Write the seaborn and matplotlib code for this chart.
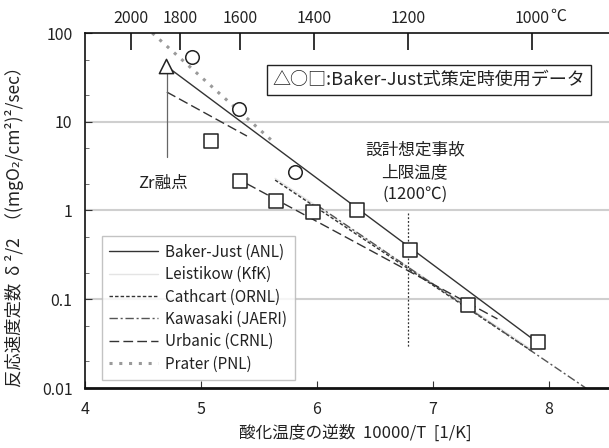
import numpy as np
import pandas as pd
import matplotlib
matplotlib.use("Agg")
import matplotlib.pyplot as plt
import seaborn as sns

# Correlation lines: inverse temperature 10000/T and rate constant at segment ends
bj_x, bj_y = [4.706, 7.91], [42.0, 0.032]            # Baker-Just (ANL)
le_x, le_y = [5.64, 7.855], [2.3, 0.027]             # Leistikow (KfK)
ca_x, ca_y = [5.64, 7.855], [2.2, 0.026]             # Cathcart (ORNL)
ka_x, ka_y = [6.0, 8.53], [1.15, 0.0065]             # Kawasaki (JAERI)
ur_hi_x, ur_hi_y = [4.706, 5.397], [21.6, 6.9]       # Urbanic (CRNL), cubic range
ur_lo_x, ur_lo_y = [5.397, 7.558], [2.0, 0.060]      # Urbanic (CRNL), tetragonal range
pr_x, pr_y = [4.58, 5.62], [100.0, 6.0]              # Prater (PNL)

# Measured points used for the Baker-Just fit
tri_x, tri_y = [4.70], [42.5]
cir_x, cir_y = [4.92, 5.33, 5.81], [53.7, 13.9, 2.7]
sq_x = [5.09, 5.34, 5.65, 5.97, 6.35, 6.80, 7.30, 7.91]
sq_y = [6.1, 2.15, 1.28, 0.96, 1.0, 0.36, 0.086, 0.033]

# Axis ticks
x_ticks = [4, 5, 6, 7, 8]
y_ticks = [0.01, 0.1, 1, 10, 100]
y_tick_labels = ["0.01", "0.1", "1", "10", "100"]
temp_c = [2000, 1800, 1600, 1400, 1200, 1000]
temp_labels = ["2000", "1800", "1600", "1400", "1200", "1000"]

zr_melt_x = 4.706          # Zr melting point (1852 ℃)
limit_x = 10000 / (1200 + 273.15)

sns.set_theme(style="white")
plt.rcParams["font.family"] = ["Noto Sans CJK JP", "DejaVu Sans"]
plt.rcParams["axes.unicode_minus"] = False

fig = plt.figure(figsize=(6.09, 4.48), dpi=100)
ax = fig.add_axes([85 / 609, 1 - 388 / 448, 1 - 85 / 609, (388 - 33) / 448])
ax.set_yscale("log")
ax.set_xlim(4, 8.52)
ax.set_ylim(0.01, 100)

ink = "#333333"
txt = "#222222"


def seg(x, y, **kw):
    df = pd.DataFrame({"x": x, "y": y})
    sns.lineplot(data=df, x="x", y="y", ax=ax, sort=False, estimator=None, **kw)
    return ax.lines[-1]


h_le = seg(le_x, le_y, color="#e4e4e4", linewidth=1.0)
h_bj = seg(bj_x, bj_y, color=ink, linewidth=1.0)
h_ca = seg(ca_x, ca_y, color=ink, linewidth=1.0, dashes=(2.5, 1.5))
h_ka = seg(ka_x, ka_y, color="#555555", linewidth=1.0, dashes=(6, 2, 1.5, 2))
h_ur = seg(ur_hi_x, ur_hi_y, color=ink, linewidth=1.0, dashes=(7, 3))
seg(ur_lo_x, ur_lo_y, color=ink, linewidth=1.0, dashes=(7, 3))
h_pr = seg(pr_x, pr_y, color="#9a9a9a", linewidth=2.2, dashes=(1, 2.2))

# Reference temperatures
ax.plot([zr_melt_x, zr_melt_x], [36, 4.0], color="#666666", linewidth=0.9)
ax.plot([limit_x, limit_x], [0.94, 0.029], color=ink, linewidth=0.9, linestyle=(0, (1.5, 1.5)))

mk = dict(facecolor="white", edgecolor="#222222", linewidth=1.1, zorder=5, ax=ax, legend=False)
sns.scatterplot(x=tri_x, y=tri_y, marker="^", s=105, **mk)
sns.scatterplot(x=cir_x, y=cir_y, marker="o", s=95, **mk)
sns.scatterplot(x=sq_x, y=sq_y, marker="s", s=90, **mk)

# Grid and ticks
for v in [0.1, 1, 10]:
    ax.axhline(v, color="#cfcfcf", linewidth=1.5, zorder=0)
ax.set_xticks(x_ticks)
ax.set_xticklabels([str(t) for t in x_ticks])
ax.set_yticks(y_ticks)
ax.set_yticklabels(y_tick_labels)
ax.yaxis.set_minor_locator(matplotlib.ticker.FixedLocator(
    [2e-2, 5e-2, 2e-1, 5e-1, 2, 5, 20, 50]))
ax.yaxis.set_minor_formatter(matplotlib.ticker.NullFormatter())
ax.tick_params(axis="both", which="major", direction="in", length=5, width=0.8,
               colors="#333333", labelsize=11.5, labelcolor=txt, pad=9,
               left=True, bottom=True)
ax.tick_params(axis="y", which="minor", direction="in", length=3, width=0.6,
               colors="#555555", left=True)
ax.set_xlabel("")
ax.set_ylabel("")

for s in ["left", "top", "bottom"]:
    ax.spines[s].set_color("#111111")
ax.spines["left"].set_linewidth(1.2)
ax.spines["top"].set_linewidth(1.2)
ax.spines["bottom"].set_linewidth(2.0)
ax.spines["right"].set_visible(False)

# Temperature scale along the top
top = ax.twiny()
top.set_xlim(ax.get_xlim())
top.set_xticks([10000 / (t + 273.15) for t in temp_c])
top.set_xticklabels(temp_labels)
top.tick_params(axis="x", direction="in", length=12, width=1.2, colors="#111111",
                labelsize=11.5, labelcolor=txt, pad=4)
for s in ["left", "right", "bottom", "top"]:
    top.spines[s].set_visible(False)
top.text(10000 / 1273.15 + 0.16, 1.0, "℃", transform=top.get_xaxis_transform(),
         ha="left", va="bottom", fontsize=11.5, color=txt).set_y(1.022)

# Axis titles
fig.text(355 / 609, 1 - 433 / 448, "酸化温度の逆数  10000/T  [1/K]",
         ha="center", va="center", fontsize=12, color=txt)
fig.text(15 / 609, 1 - 222 / 448, "反応速度定数  δ ²/2  （(mgO₂/cm²)²/sec）",
         ha="center", va="center", rotation=90, fontsize=12.5, color=txt)

# Annotations
ax.text(0.657, 0.868, "△○□:Baker-Just式策定時使用データ", transform=ax.transAxes,
        ha="center", va="center", fontsize=13, color=txt,
        bbox=dict(boxstyle="square,pad=0.32", facecolor="white",
                  edgecolor="#222222", linewidth=1.0))
ax.text(4.67, 2.0, "Zr融点", ha="center", va="center", fontsize=12, color=txt)
ax.text(6.845, 2.7, "設計想定事故\n上限温度\n(1200℃)", ha="center", va="center",
        fontsize=12, color=txt, linespacing=1.4)

leg = ax.legend([h_bj, h_le, h_ca, h_ka, h_ur, h_pr],
                ["Baker-Just (ANL)", "Leistikow (KfK)", "Cathcart (ORNL)",
                 "Kawasaki (JAERI)", "Urbanic (CRNL)", "Prater (PNL)"],
                loc="lower left", bbox_to_anchor=(0.032, 0.0225), borderaxespad=0,
                fontsize=11, handlelength=3.2, handletextpad=0.45, labelspacing=0.35,
                frameon=True, fancybox=False, borderpad=0.5)
leg.get_frame().set_edgecolor("#b5b5b5")
leg.get_frame().set_linewidth(1.0)
for t in leg.get_texts():
    t.set_color(txt)

fig.savefig("out.png", dpi=100)
